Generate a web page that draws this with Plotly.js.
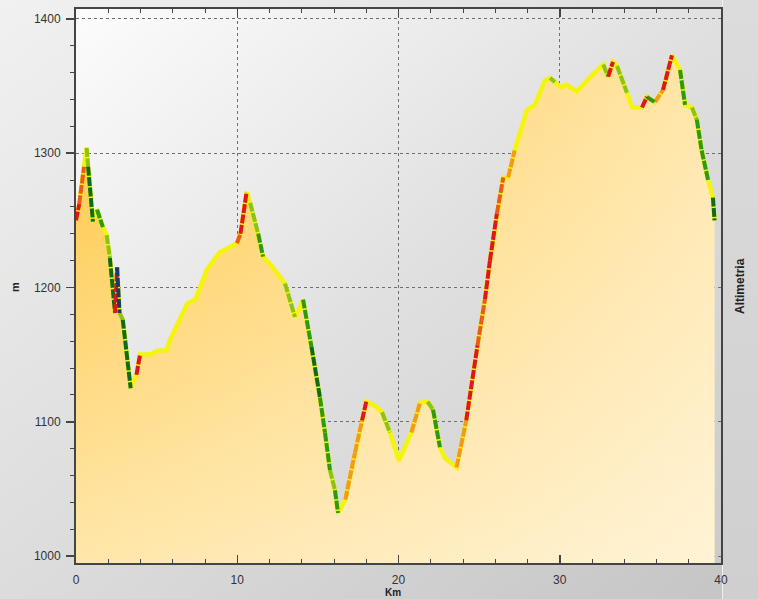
<!DOCTYPE html>
<html>
<head>
<meta charset="utf-8">
<script src="https://cdn.plot.ly/plotly-3.0.1.min.js"></script>
<style>
html,body{margin:0;padding:0;}
#wrap{position:relative;width:758px;height:599px;overflow:hidden;background:linear-gradient(to bottom right,#f1f1f1 0%,#dadada 55%,#c4c4c4 100%);}
#plotbg{position:absolute;left:76px;top:9px;width:645px;height:554px;background:linear-gradient(to bottom right,#fcfcfc 0%,#e0e0e0 50%,#cbcbcb 100%);}
#panel{position:absolute;left:722px;top:0;width:36px;height:599px;border-left:1px solid #f2f2f2;background:linear-gradient(to bottom,#dcdcdc,#cfcfcf);}
#chart{position:absolute;left:0;top:0;width:758px;height:599px;}
</style>
</head>
<body>
<div id="wrap"><div id="panel"></div><div id="plotbg"></div><div id="chart"></div></div>
<script>
// distance (km)
const km = [0.00,0.20,0.50,0.66,0.75,1.05,1.15,1.30,1.67,1.90,2.10,2.42,2.55,2.70,2.90,3.39,3.75,3.97,4.60,5.10,
            5.60,5.83,6.90,7.40,7.57,8.10,8.90,9.98,10.20,10.58,10.80,11.30,11.60,12.20,12.96,13.58,13.85,14.08,14.60,15.13,
            15.44,15.75,16.06,16.25,16.70,17.30,17.74,18.00,18.54,18.98,19.47,20.03,20.80,21.33,21.80,22.14,22.57,22.88,23.60,24.20,
            24.90,25.36,25.67,26.10,26.50,26.80,27.20,27.96,28.46,29.08,29.40,29.70,30.10,30.40,31.07,31.90,32.70,33.00,33.30,33.55,
            34.17,34.50,35.10,35.40,35.90,36.40,36.96,37.46,37.77,38.20,38.50,38.80,39.20,39.50,39.60];
// elevation (m)
const elev = [1250,1262,1290,1304,1290,1249,1253,1258,1245,1239,1222,1181,1215,1181,1176,1125,1135,1150,1150,1153,
              1153,1161,1188,1191,1196,1213,1226,1233,1240,1271,1263,1240,1223,1215,1203,1178,1184,1191,1156,1118,
              1092,1064,1049,1032,1042,1077,1101,1115,1112,1107,1092,1071,1092,1114,1115,1109,1081,1073,1066,1101,
              1157,1191,1220,1255,1282,1282,1302,1332,1336,1354,1356,1353,1349,1351,1346,1357,1366,1357,1368,1365,
              1345,1334,1334,1342,1338,1347,1373,1362,1336,1334,1325,1302,1280,1267,1250];
// slope class of each segment (from point i to i+1)
const segClass = ['R','OR','Y','YG','DG','Y','Y','G','Y','YG','DG','R','B','YG','DG','Y','R','Y','Y','Y',
                  'Y','Y','Y','Y','Y','Y','Y','OR','R','Y','YG','G','Y','Y','YG','Y','Y','G','DG','G',
                  'G','YG','G','Y','O','O','R','Y','Y','YG','Y','Y','O','Y','YG','G','Y','Y','O','R',
                  'OR','R','R','OR','Y','O','Y','Y','Y','Y','YG','Y','Y','Y','Y','Y','YG','R','Y','YG',
                  'Y','Y','R','G','O','R','Y','G','Y','YG','G','G','Y','DG'];
const xTicks = [0,10,20,30,40];
const yTicks = [1000,1100,1200,1300,1400];

const palette = {Y:'#F4F40C', YG:'#8CC21C', G:'#2E9A12', DG:'#0E6C16', O:'#F39A1E', OR:'#EE5A18', R:'#E2141E', B:'#173E6A'};
const order = ['YG','O','OR','G','DG','R','B'];

const traces = [];
// base fill, horizontal gradient
traces.push({x:km, y:elev, type:'scatter', mode:'lines', line:{width:0}, fill:'tozeroy',
  fillgradient:{type:'horizontal', colorscale:[[0,'#FFC63E'],[1,'#FFE6AA']]}, hoverinfo:'skip'});
// overlay fill, vertical paling toward the bottom
traces.push({x:km, y:elev, type:'scatter', mode:'lines', line:{width:0}, fill:'tozeroy',
  fillgradient:{type:'vertical', start:995, stop:1375,
    colorscale:[[0,'rgba(255,252,242,0.6)'],[1,'rgba(255,252,242,0)']]}, hoverinfo:'skip'});
// yellow base line along the whole profile
traces.push({x:km, y:elev, type:'scatter', mode:'lines',
  line:{color:palette.Y, width:4.5}, hoverinfo:'skip'});

order.forEach(c => {
  const xs = [], ys = [];
  for (let i = 0; i < segClass.length; i++) {
    if (segClass[i] === c) { xs.push(km[i], km[i+1], null); ys.push(elev[i], elev[i+1], null); }
  }
  if (xs.length) traces.push({x:xs, y:ys, type:'scatter', mode:'lines',
    line:{color:palette[c], width:4, dash:'9px,1.5px'}, connectgaps:false, hoverinfo:'skip'});
});

const axisCol = '#454545';
const layout = {
  width:758, height:599,
  margin:{l:76, r:37, t:9, b:36, pad:0},
  paper_bgcolor:'rgba(0,0,0,0)', plot_bgcolor:'rgba(0,0,0,0)',
  showlegend:false,
  font:{family:'Liberation Sans, Arial, sans-serif', size:12, color:'#333'},
  xaxis:{range:[0,40], tickmode:'array', tickvals:xTicks, ticktext:xTicks.map(String),
    ticks:'inside', ticklen:8, tickwidth:1.5, tickcolor:axisCol,
    minor:{tickmode:'linear', tick0:0, dtick:2, ticks:'inside', ticklen:4, tickwidth:1, tickcolor:axisCol, showgrid:false},
    showline:true, linecolor:axisCol, linewidth:2, mirror:'ticks',
    showgrid:true, gridcolor:'#6e6e6e', griddash:'dot', gridwidth:1, zeroline:false,
    ticklabelstandoff:5},
  yaxis:{range:[994.8,1407.4], tickmode:'array', tickvals:yTicks, ticktext:yTicks.map(String),
    ticks:'outside', ticklen:8, tickwidth:1.5, tickcolor:axisCol,
    minor:{tickmode:'linear', tick0:1000, dtick:20, ticks:'outside', ticklen:4, tickwidth:1, tickcolor:axisCol, showgrid:false},
    showline:true, linecolor:axisCol, linewidth:2, mirror:true,
    showgrid:true, gridcolor:'#6e6e6e', griddash:'dot', gridwidth:1, zeroline:false,
    ticklabelstandoff:3},
  annotations:[
    {text:'<b>m</b>', xref:'paper', yref:'paper', x:-0.0946, xanchor:'center', y:0.498, yanchor:'middle',
     textangle:-90, showarrow:false, font:{size:11, color:'#222'}},
    {text:'<b>Altimetria</b>', xref:'paper', yref:'paper', x:1.0295, xanchor:'center', y:0.5, yanchor:'middle',
     textangle:-90, showarrow:false, font:{size:12, color:'#222'}},
    {text:'<b>Km</b>', xref:'paper', yref:'paper', x:0.4915, xanchor:'center', y:-0.0650, yanchor:'bottom',
     showarrow:false, borderpad:0, font:{size:10, color:'#222'}}
  ]
};

Plotly.newPlot('chart', traces, layout, {staticPlot:true, displayModeBar:false});
</script>
</body>
</html>
